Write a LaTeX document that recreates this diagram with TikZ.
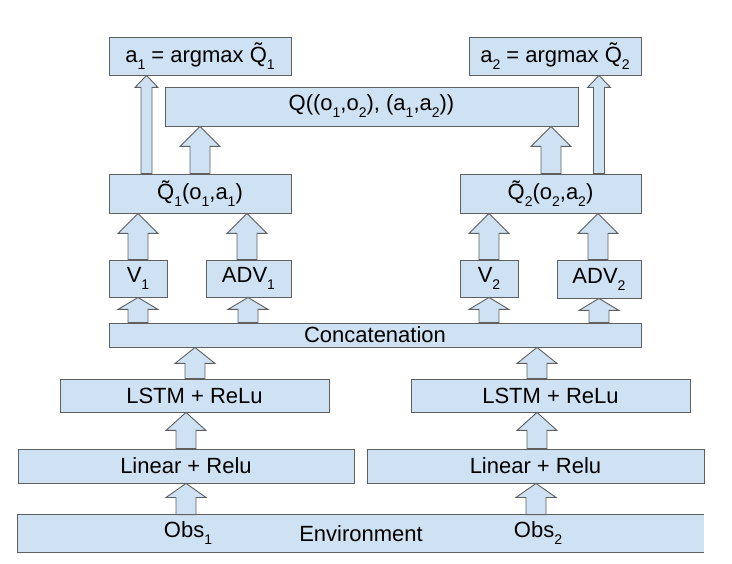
\documentclass[tikz,border=0pt]{standalone}
\usepackage{fontspec}
\setmainfont{Liberation Sans}
\usepackage{tikz}
\usetikzlibrary{calc}

\definecolor{boxfill}{RGB}{207,226,243}
\definecolor{boxline}{RGB}{95,95,95}

% subscript as the drawing tool sets it
\newcommand{\sbs}[1]{\raisebox{-0.32em}{\fontsize{14}{14}\selectfont #1}}
\newcommand{\qt}{\~{Q}}

% block arrow: x, source node, target node, shaft half, head half, head length
\newcommand{\barrow}[6]{%
  \path (#1,0 |- #2.north) coordinate (b) (#1,0 |- #3.south) coordinate (t);
  \draw[barr] ($(b)+(-#4,0)$) -- ($(t)+(-#4,#6)$) -- ($(t)+(-#5,#6)$) -- (t)
    -- ($(t)+(#5,#6)$) -- ($(t)+(#4,#6)$) -- ($(b)+(#4,0)$) -- cycle;}
\newcommand{\bigarr}[4]{\barrow{#1}{#2}{#3}{10}{20}{#4}}
\newcommand{\thinarr}[3]{\barrow{#1}{#2}{#3}{5.5}{11.5}{12}}

\begin{document}
\begin{tikzpicture}[x=1pt, y=-1pt,
    box/.style={rectangle, draw=boxline, fill=boxfill, line width=0.9pt,
                inner sep=0pt, font=\fontsize{22}{26}\selectfont},
    txt/.style={inner sep=0pt, font=\fontsize{22}{26}\selectfont},
    barr/.style={draw=boxline, fill=boxfill, line width=0.9pt, line join=miter}
  ]
  \useasboundingbox (0,0) rectangle (732,564);
  % -- environment --
  \node[box, draw=none, minimum width=686, minimum height=37] (env) at (361,533.5) {Environment};
  \draw[boxline, line width=0.9pt] (env.north east) -- (env.north west)
    -- (env.south west) -- (env.south east);
  \node[txt] (obs1) at (188,533.5) {Obs\sbs{1}};
  \node[txt] (obs2) at (538,533.5) {Obs\sbs{2}};
  % -- encoders --
  \node[box, minimum width=336, minimum height=34] (lin1) at (186,466) {Linear + Relu};
  \node[box, minimum width=337, minimum height=34] (lin2) at (535.5,466) {Linear + Relu};
  \node[box, minimum width=269, minimum height=33] (lstm1) at (194.5,395.5) {LSTM + ReLu};
  \node[box, minimum width=279, minimum height=33] (lstm2) at (550.5,395.5) {LSTM + ReLu};
  \node[box, minimum width=532, minimum height=24] (cat) at (375,335) {Concatenation};
  % -- dueling heads --
  \node[box, minimum width=58, minimum height=37] (v1) at (138,278.5) {V\sbs{1}};
  \node[box, minimum width=85, minimum height=37] (adv1) at (248.5,278.5) {ADV\sbs{1}};
  \node[box, minimum width=58, minimum height=37] (v2) at (489,278.5) {V\sbs{2}};
  \node[box, minimum width=84, minimum height=38] (adv2) at (599,279) {ADV\sbs{2}};
  \node[box, minimum width=182, minimum height=39] (q1) at (200,193.5) {\qt\sbs{1}(o\sbs{1},a\sbs{1})};
  \node[box, minimum width=181, minimum height=39] (q2) at (550.5,193.5) {\qt\sbs{2}(o\sbs{2},a\sbs{2})};
  % -- joint value and actions --
  \node[box, minimum width=413, minimum height=39] (qq) at (371.5,106.5)
    {Q((o\sbs{1},o\sbs{2}), (a\sbs{1},a\sbs{2}))};
  \node[box, minimum width=182, minimum height=38] (a1) at (200,56) {a\sbs{1} = argmax \qt\sbs{1}};
  \node[box, minimum width=172, minimum height=38] (a2) at (555,56) {a\sbs{2} = argmax \qt\sbs{2}};
  % -- arrows --
  \bigarr{186}{env}{lin1}{14}
  \bigarr{536}{env}{lin2}{14}
  \bigarr{186}{lin1}{lstm1}{18}
  \bigarr{537}{lin2}{lstm2}{18}
  \bigarr{195}{lstm1}{cat}{16}
  \bigarr{537}{lstm2}{cat}{16}
  \foreach \x/\t in {138/v1, 248/adv1, 489/v2, 599/adv2}{ \bigarr{\x}{cat}{\t}{12} }
  \foreach \x/\s/\t in {138/v1/q1, 247/adv1/q1, 489/v2/q2, 598/adv2/q2}{ \bigarr{\x}{\s}{\t}{20} }
  \bigarr{200}{q1}{qq}{20}
  \bigarr{551}{q2}{qq}{20}
  \thinarr{146.5}{q1}{a1}
  \thinarr{599}{q2}{a2}
\end{tikzpicture}
\end{document}
